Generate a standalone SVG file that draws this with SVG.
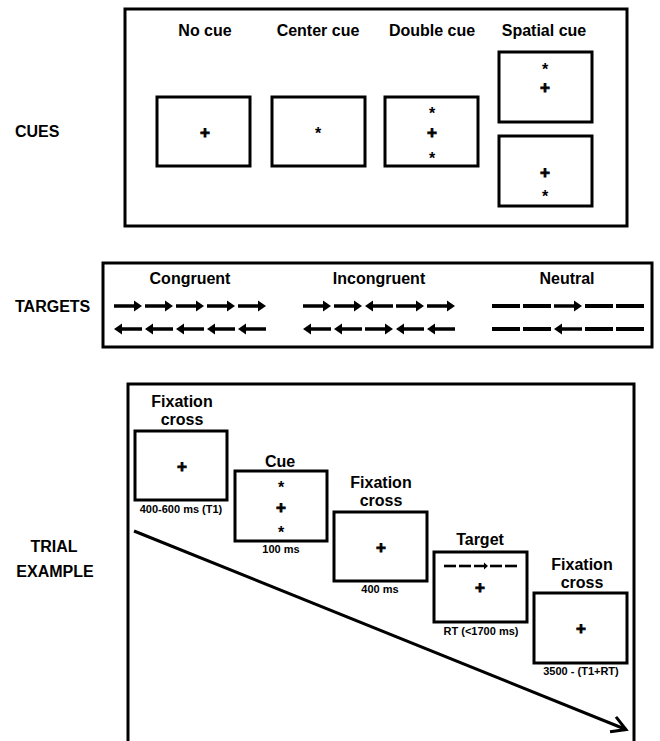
<svg xmlns="http://www.w3.org/2000/svg" xmlns:xlink="http://www.w3.org/1999/xlink" width="660" height="741" viewBox="0 0 660 741">
<defs>
<style>
text{font-family:"Liberation Sans",Arial,sans-serif;font-weight:bold;fill:#000}
.t{font-size:16px;text-anchor:middle}
.side{font-size:16px}
.sm{font-size:11px;text-anchor:middle}
.g{font-size:16px;text-anchor:middle}
.p{font-size:17px;text-anchor:middle;stroke:#000;stroke-width:0.8}
.frame{fill:#fff;stroke:#000;stroke-width:3}
.box{fill:#fff;stroke:#000;stroke-width:3}
.conn{fill:none;stroke:#000;stroke-width:3}
</style>
<path id="ra" d="M0,-1.8H20V-5.5L28,0L20,5.5V1.8H0Z" fill="#000"/>
<path id="la" d="M28,-1.8H8V-5.5L0,0L8,5.5V1.8H28Z" fill="#000"/>
<rect id="ds" x="0" y="-2" width="28" height="4" fill="#000"/>
<path id="sra" d="M0,-1.2H10V-3.5L14,0L10,3.5V1.2H0Z" fill="#000"/>
<rect id="sds" x="0" y="-1.3" width="12" height="2.6" fill="#000"/>
<marker id="open" markerUnits="userSpaceOnUse" markerWidth="20" markerHeight="20" viewBox="-16 -10 20 20" refX="0" refY="0" orient="auto">
<path d="M-14,-8L0,0L-14,8" fill="none" stroke="#000" stroke-width="3"/>
</marker>
</defs>
<rect width="660" height="741" fill="#fff"/>

<g id="cues">
<rect class="frame" x="125" y="9" width="502" height="217"/>
<text class="side" x="15" y="137">CUES</text>
<g id="no-cue">
<text class="t" x="205" y="36">No cue</text>
<rect class="box" x="157" y="97" width="93" height="69"/>
<text class="p" x="205" y="138">+</text>
</g>
<g id="center-cue">
<text class="t" x="318" y="36">Center cue</text>
<rect class="box" x="272" y="97" width="93" height="69"/>
<text class="g" x="318" y="139.3">*</text>
</g>
<g id="double-cue">
<text class="t" x="432" y="36">Double cue</text>
<rect class="box" x="385" y="97" width="93" height="69"/>
<text class="g" x="432" y="118.5">*</text>
<text class="p" x="432" y="138">+</text>
<text class="g" x="432" y="163.5">*</text>
</g>
<g id="spatial-cue">
<text class="t" x="544" y="36">Spatial cue</text>
<rect class="box" x="499" y="52" width="93" height="70"/>
<text class="g" x="545" y="75">*</text>
<text class="p" x="545" y="93">+</text>
<rect class="box" x="499" y="136" width="93" height="70"/>
<text class="p" x="545" y="178">+</text>
<text class="g" x="545" y="202">*</text>
</g>
</g>

<g id="targets">
<rect class="frame" x="103" y="263" width="549" height="84"/>
<text class="side" x="15" y="312">TARGETS</text>
<g id="congruent">
<text class="t" x="190" y="284">Congruent</text>
<use xlink:href="#ra" x="114" y="306"/><use xlink:href="#ra" x="145" y="306"/><use xlink:href="#ra" x="176" y="306"/><use xlink:href="#ra" x="207" y="306"/><use xlink:href="#ra" x="238" y="306"/>
<use xlink:href="#la" x="114" y="329"/><use xlink:href="#la" x="145" y="329"/><use xlink:href="#la" x="176" y="329"/><use xlink:href="#la" x="207" y="329"/><use xlink:href="#la" x="238" y="329"/>
</g>
<g id="incongruent">
<text class="t" x="379" y="284">Incongruent</text>
<use xlink:href="#ra" x="303" y="306"/><use xlink:href="#ra" x="334" y="306"/><use xlink:href="#la" x="365" y="306"/><use xlink:href="#ra" x="396" y="306"/><use xlink:href="#ra" x="427" y="306"/>
<use xlink:href="#la" x="303" y="329"/><use xlink:href="#la" x="334" y="329"/><use xlink:href="#ra" x="365" y="329"/><use xlink:href="#la" x="396" y="329"/><use xlink:href="#la" x="427" y="329"/>
</g>
<g id="neutral">
<text class="t" x="567" y="284">Neutral</text>
<use xlink:href="#ds" x="492" y="306"/><use xlink:href="#ds" x="523" y="306"/><use xlink:href="#ra" x="554" y="306"/><use xlink:href="#ds" x="585" y="306"/><use xlink:href="#ds" x="616" y="306"/>
<use xlink:href="#ds" x="492" y="329"/><use xlink:href="#ds" x="523" y="329"/><use xlink:href="#la" x="554" y="329"/><use xlink:href="#ds" x="585" y="329"/><use xlink:href="#ds" x="616" y="329"/>
</g>
</g>

<g id="trial">
<path class="conn" d="M128,745V384H634V745"/>
<text class="side" x="54" y="552" text-anchor="middle">TRIAL</text>
<text class="side" x="55" y="577" text-anchor="middle">EXAMPLE</text>
</g>

<g id="connectors">
<line class="conn" x1="134" y1="531" x2="626" y2="729.5" marker-end="url(#open)"/>
</g>

<g id="step1">
<text class="t" x="182" y="407">Fixation</text>
<text class="t" x="182" y="425">cross</text>
<rect class="box" x="135" y="431" width="92" height="69"/>
<text class="p" x="182" y="472">+</text>
<text class="sm" x="181" y="513">400-600 ms (T1)</text>
</g>
<g id="step2">
<text class="t" x="280" y="467">Cue</text>
<rect class="box" x="235" y="471" width="92" height="70"/>
<text class="g" x="281" y="493">*</text>
<text class="p" x="281" y="513">+</text>
<text class="g" x="281" y="538">*</text>
<text class="sm" x="281" y="553">100 ms</text>
</g>
<g id="step3">
<text class="t" x="381" y="488">Fixation</text>
<text class="t" x="381" y="506">cross</text>
<rect class="box" x="334" y="512" width="93" height="69"/>
<text class="p" x="381" y="553">+</text>
<text class="sm" x="380" y="593">400 ms</text>
</g>
<g id="step4">
<text class="t" x="480" y="545">Target</text>
<rect class="box" x="434" y="552" width="93" height="70"/>
<use xlink:href="#sds" x="444" y="566"/><use xlink:href="#sds" x="459" y="566"/><use xlink:href="#sra" x="474" y="566"/><use xlink:href="#sds" x="490" y="566"/><use xlink:href="#sds" x="505" y="566"/>
<text class="p" x="480" y="593">+</text>
<text class="sm" x="481" y="635">RT (&lt;1700 ms)</text>
</g>
<g id="step5">
<text class="t" x="582" y="570">Fixation</text>
<text class="t" x="582" y="588">cross</text>
<rect class="box" x="534" y="593" width="93" height="70"/>
<text class="p" x="581" y="634">+</text>
<text class="sm" x="581" y="675">3500 - (T1+RT)</text>
</g>
</svg>
